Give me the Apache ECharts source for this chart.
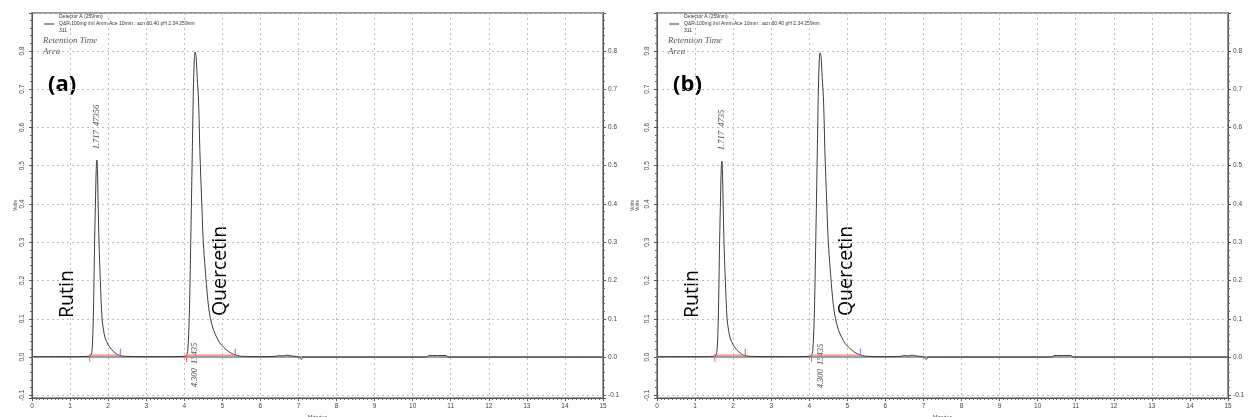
<!DOCTYPE html>
<html>
<head>
<meta charset="utf-8">
<script src="https://cdn.jsdelivr.net/npm/echarts@6/dist/echarts.min.js"></script>
<style>html,body{margin:0;padding:0;background:#fff}#c{width:1249px;height:417px}</style>
</head>
<body>
<div id="c"></div>
<script>
// ---- data ----
const xTickLabels = ['0','1','2','3','4','5','6','7','8','9','10','11','12','13','14','15'];
const yTickLabels = ['-0.1','0.0','0.1','0.2','0.3','0.4','0.5','0.6','0.7','0.8'];

const timesA = [0, 0.5, 1.0, 1.5, 1.55, 1.58, 1.61, 1.645, 1.67, 1.69, 1.705, 1.72, 1.735, 1.76, 1.795, 1.84, 1.88, 1.92, 2.0, 2.09, 2.18, 2.27, 2.35, 2.45,
  3.0, 3.5, 4.0, 4.05, 4.09, 4.13, 4.17, 4.21, 4.24, 4.265, 4.285, 4.31, 4.34, 4.37, 4.39, 4.41, 4.46, 4.50, 4.55, 4.59, 4.64, 4.69, 4.77, 4.85, 4.94, 5.03, 5.12, 5.2, 5.3, 5.4, 5.5,
  6.0, 6.4, 6.5, 6.6, 6.7, 6.8, 6.9, 7.0, 7.08, 7.12, 7.2, 8.0, 9.0, 10.0, 10.38, 10.42, 10.88, 10.92, 12.0, 13.0, 14.0, 15.0];
const voltsA = [0.001, 0.001, 0.001, 0.002, 0.004, 0.02, 0.1, 0.3, 0.42, 0.50, 0.515, 0.49, 0.41, 0.30, 0.20, 0.10, 0.07, 0.05, 0.032, 0.02, 0.011, 0.005, 0.003, 0.002,
  0.001, 0.001, 0.002, 0.004, 0.015, 0.1, 0.3, 0.53, 0.70, 0.78, 0.797, 0.785, 0.73, 0.68, 0.62, 0.54, 0.40, 0.30, 0.23, 0.18, 0.13, 0.10, 0.07, 0.052, 0.036, 0.026, 0.018, 0.012, 0.007, 0.004, 0.002,
  0.001, 0.002, 0.004, 0.003, 0.005, 0.003, 0.002, 0.0, -0.006, 0.0, 0.0, 0.0, 0.0, 0.0, 0.0, 0.004, 0.004, 0.0, 0.0, 0.0, 0.0, 0.0];

const timesB = [0, 0.5, 1.0, 1.5, 1.55, 1.58, 1.61, 1.645, 1.67, 1.69, 1.705, 1.72, 1.735, 1.76, 1.795, 1.84, 1.88, 1.92, 2.0, 2.09, 2.18, 2.27, 2.35, 2.45,
  3.0, 3.5, 4.0, 4.05, 4.09, 4.13, 4.17, 4.21, 4.24, 4.265, 4.285, 4.31, 4.34, 4.37, 4.39, 4.41, 4.46, 4.50, 4.55, 4.59, 4.64, 4.69, 4.77, 4.85, 4.94, 5.03, 5.12, 5.2, 5.3, 5.4, 5.5,
  6.0, 6.4, 6.5, 6.6, 6.7, 6.8, 6.9, 7.0, 7.08, 7.12, 7.2, 8.0, 9.0, 10.0, 10.38, 10.42, 10.88, 10.92, 12.0, 13.0, 14.0, 15.0];
const voltsB = [0.001, 0.001, 0.001, 0.002, 0.004, 0.02, 0.1, 0.3, 0.42, 0.50, 0.512, 0.49, 0.41, 0.30, 0.20, 0.10, 0.07, 0.05, 0.032, 0.02, 0.011, 0.005, 0.003, 0.002,
  0.001, 0.001, 0.002, 0.004, 0.015, 0.1, 0.3, 0.53, 0.70, 0.78, 0.795, 0.785, 0.73, 0.68, 0.62, 0.54, 0.40, 0.30, 0.23, 0.18, 0.13, 0.10, 0.07, 0.052, 0.036, 0.026, 0.018, 0.012, 0.007, 0.004, 0.002,
  0.001, 0.002, 0.004, 0.003, 0.005, 0.003, 0.002, 0.0, -0.006, 0.0, 0.0, 0.0, 0.0, 0.0, 0.0, 0.004, 0.004, 0.0, 0.0, 0.0, 0.0, 0.0];

const integStart = [1.52, 4.06];
const integEnd = [2.32, 5.34];
const compounds = ['Rutin', 'Quercetin'];
const peakLabelsA = ['1.717  47356', '4.300  15435'];
const peakLabelsB = ['1.717  4735', '4.300  15435'];
const panelTags = ['(a)', '(b)'];
const legendLines = ['Detector A (259nm)', 'Q&R 100mg /ml Amm.Ace 10mm : acn 60:40 pH 2.34 259nm', '311'];
const annotationHeads = ['Retention Time', 'Area'];

// ---- chart ----
const chart = echarts.init(document.getElementById('c'), null, {renderer: 'canvas'});
const gridLefts = [32, 657];
const Y_MIN = -0.107, Y_MAX = 0.899;

function yFmt(v) {
  const k = Math.round(v * 10);
  if (Math.abs(k - v * 10) > 1e-6) return '';
  const s = (k / 10).toFixed(1);
  return yTickLabels.indexOf(s) >= 0 ? s : '';
}

const grids = [], xAxes = [], yAxes = [], series = [], graphics = [];
[0, 1].forEach(function (p) {
  grids.push({left: gridLefts[p], top: 13, width: 571, height: 385, show: true, containLabel: false, outerBoundsMode: 'none',
    borderColor: '#9a9a9a', borderWidth: 2, backgroundColor: 'transparent'});
  xAxes.push({type: 'value', gridIndex: p, min: 0, max: 15, interval: 1,
    axisLine: {show: true, onZero: false, lineStyle: {color: '#555', width: 1}},
    axisTick: {show: true, length: 3, lineStyle: {color: '#555'}},
    minorTick: {show: true, splitNumber: 10, length: 2, lineStyle: {color: '#666'}},
    axisLabel: {fontSize: 6.5, color: '#444', margin: 5, fontFamily: 'Liberation Sans',
      formatter: function (v) { return xTickLabels[Math.round(v)] || ''; }},
    splitLine: {show: true, lineStyle: {type: [2, 3], color: '#bdbdbd', width: 1}},
    name: 'Minutes', nameLocation: 'middle', nameGap: 14,
    nameTextStyle: {fontSize: 5.5, color: '#444', fontFamily: 'Liberation Sans'}});
  yAxes.push({type: 'value', gridIndex: p, position: 'left', min: Y_MIN, max: Y_MAX, splitNumber: 10,
    axisLine: {show: true, onZero: false, lineStyle: {color: '#555', width: 1}},
    axisTick: {show: true, length: 3, lineStyle: {color: '#555'}},
    minorTick: {show: true, splitNumber: 5, length: 2, lineStyle: {color: '#666'}},
    axisLabel: {fontSize: 6.5, color: '#444', rotate: 90, margin: 6, fontFamily: 'Liberation Sans', formatter: yFmt},
    splitLine: {show: true, lineStyle: {type: [2, 3], color: '#bdbdbd', width: 1}},
    name: p === 0 ? 'Volts' : 'Volts\nVolts', nameLocation: 'middle', nameGap: p === 0 ? 14 : 17, nameRotate: 90,
    nameTextStyle: {fontSize: 5, color: '#444', fontFamily: 'Liberation Sans', lineHeight: 5}});
  yAxes.push({type: 'value', gridIndex: p, position: 'right', min: Y_MIN, max: Y_MAX, splitNumber: 10,
    axisLine: {show: true, onZero: false, lineStyle: {color: '#555', width: 1}},
    axisTick: {show: true, length: 3, lineStyle: {color: '#555'}},
    minorTick: {show: true, splitNumber: 5, length: 2, lineStyle: {color: '#666'}},
    axisLabel: {fontSize: 6.5, color: '#444', margin: 5, fontFamily: 'Liberation Sans', formatter: yFmt},
    splitLine: {show: false}});

  const times = p === 0 ? timesA : timesB;
  const volts = p === 0 ? voltsA : voltsB;
  const yIdx = p * 2;
  // zero baseline
  series.push({type: 'line', xAxisIndex: p, yAxisIndex: yIdx, data: [[0, 0], [15, 0]], showSymbol: false, silent: true,
    lineStyle: {color: '#a0a0a0', width: 2}, z: 2});
  // trace
  series.push({type: 'line', xAxisIndex: p, yAxisIndex: yIdx, data: times.map(function (t, i) { return [t, volts[i]]; }),
    showSymbol: false, smooth: 0.3, silent: true, lineStyle: {color: '#3d3d3d', width: 1}, z: 4});
  // integration baselines
  integStart.forEach(function (s, k) {
    const e = integEnd[k];
    series.push({type: 'line', xAxisIndex: p, yAxisIndex: yIdx, data: [[s, 0.005], [e, 0.005]], showSymbol: false, silent: true,
      lineStyle: {color: '#ff5c5c', width: 1}, z: 6});
    series.push({type: 'line', xAxisIndex: p, yAxisIndex: yIdx, data: [[s, 0.008], [s, -0.013]], showSymbol: false, silent: true,
      lineStyle: {color: '#ff5c5c', width: 1}, z: 6});
    series.push({type: 'line', xAxisIndex: p, yAxisIndex: yIdx, data: [[e, 0.004], [e, 0.022]], showSymbol: false, silent: true,
      lineStyle: {color: '#7070ff', width: 1}, z: 6});
  });

  // ---- texts ----
  const dx = gridLefts[p] - 32;
  graphics.push({type: 'line', shape: {x1: 44 + dx, y1: 24, x2: 54 + dx, y2: 24}, style: {stroke: '#333', lineWidth: 1}});
  legendLines.forEach(function (s, i) {
    graphics.push({type: 'text', x: 59 + dx, y: 17 + i * 7,
      style: {text: s, fontSize: 5, fontFamily: 'Liberation Sans', fill: '#333', align: 'left', verticalAlign: 'middle'}});
  });
  annotationHeads.forEach(function (s, i) {
    graphics.push({type: 'text', x: 43 + dx, y: 41 + i * 10.5,
      style: {text: s, fontSize: 9, fontStyle: 'italic', fontFamily: 'Liberation Serif', fill: '#555', align: 'left', verticalAlign: 'middle'}});
  });
  graphics.push({type: 'text', x: 48 + dx, y: 85,
    style: {text: panelTags[p], fontSize: 22, fontWeight: 'bold', fontFamily: 'Open Sans', fill: '#000', align: 'left', verticalAlign: 'middle'}});
  const compPos = [[67, 294], [220, 271]];
  compounds.forEach(function (c, i) {
    graphics.push({type: 'text', x: compPos[i][0] + dx + (p === 1 ? (i === 0 ? 0 : 1) : 0), y: compPos[i][1], rotation: Math.PI / 2,
      style: {text: c, fontSize: 19.5, fontFamily: 'Open Sans', fill: '#000', align: 'center', verticalAlign: 'middle'}});
  });
  const pl = p === 0 ? peakLabelsA : peakLabelsB;
  const plPos = p === 0 ? [[97, 127], [195, 365]] : [[97, 130], [196, 366]];
  const plSize = p === 0 ? [8.5, 8.5] : [8.5, 8.5];
  pl.forEach(function (s, i) {
    graphics.push({type: 'text', x: plPos[i][0] + dx, y: plPos[i][1], rotation: Math.PI / 2,
      style: {text: s, fontSize: plSize[i], fontStyle: 'italic', fontFamily: 'Liberation Serif', fill: '#444', align: 'center', verticalAlign: 'middle'}});
  });
});

chart.setOption({
  animation: false,
  backgroundColor: '#fff',
  grid: grids,
  xAxis: xAxes,
  yAxis: yAxes,
  series: series,
  graphic: graphics
});
</script>
</body>
</html>
